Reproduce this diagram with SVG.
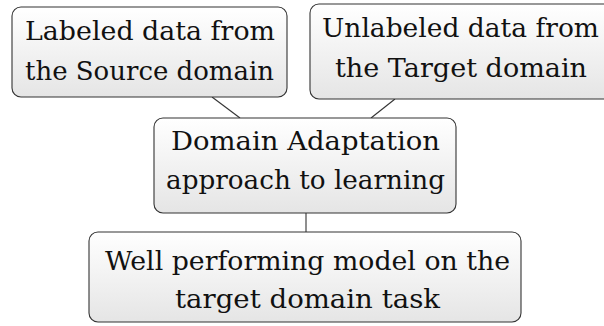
<svg xmlns="http://www.w3.org/2000/svg" width="604" height="326" viewBox="0 0 604 326">
<defs>
<linearGradient id="g" x1="0" y1="0" x2="0" y2="1">
<stop offset="0" stop-color="#ffffff"/>
<stop offset="1" stop-color="#e5e5e5"/>
</linearGradient>
<style>
.box{fill:url(#g);stroke:#333333;stroke-width:1.1}
.t{font-family:"DejaVu Serif","Liberation Serif","Times New Roman",Times,serif;font-size:26px;fill:#111111;text-anchor:middle}
.c{stroke:#333333;stroke-width:1.1;fill:none}
</style>
</defs>
<rect width="604" height="326" fill="#ffffff"/>
<g id="connectors">
<line class="c" x1="212" y1="97" x2="240" y2="118"/>
<line class="c" x1="395" y1="99" x2="371" y2="118"/>
<line class="c" x1="306" y1="213" x2="306" y2="232"/>
</g>
<g id="source">
<rect class="box" x="12" y="7" width="275" height="90" rx="9"/>
<text class="t" x="150" y="40" textLength="250" lengthAdjust="spacingAndGlyphs">Labeled data from</text>
<text class="t" x="149.5" y="80" textLength="249" lengthAdjust="spacingAndGlyphs">the Source domain</text>
</g>
<g id="target">
<rect class="box" x="310" y="4" width="302" height="95" rx="9"/>
<text class="t" x="460.5" y="37" textLength="277" lengthAdjust="spacingAndGlyphs">Unlabeled data from</text>
<text class="t" x="461" y="77" textLength="252" lengthAdjust="spacingAndGlyphs">the Target domain</text>
</g>
<g id="approach">
<rect class="box" x="154" y="118" width="302" height="95" rx="9"/>
<text class="t" x="305.5" y="150" textLength="269" lengthAdjust="spacingAndGlyphs">Domain Adaptation</text>
<text class="t" x="305.5" y="189" textLength="279" lengthAdjust="spacingAndGlyphs">approach to learning</text>
</g>
<g id="model">
<rect class="box" x="89" y="232" width="432" height="90" rx="9"/>
<text class="t" x="307.5" y="270" textLength="405" lengthAdjust="spacingAndGlyphs">Well performing model on the</text>
<text class="t" x="307.5" y="308" textLength="265" lengthAdjust="spacingAndGlyphs">target domain task</text>
</g>
</svg>
